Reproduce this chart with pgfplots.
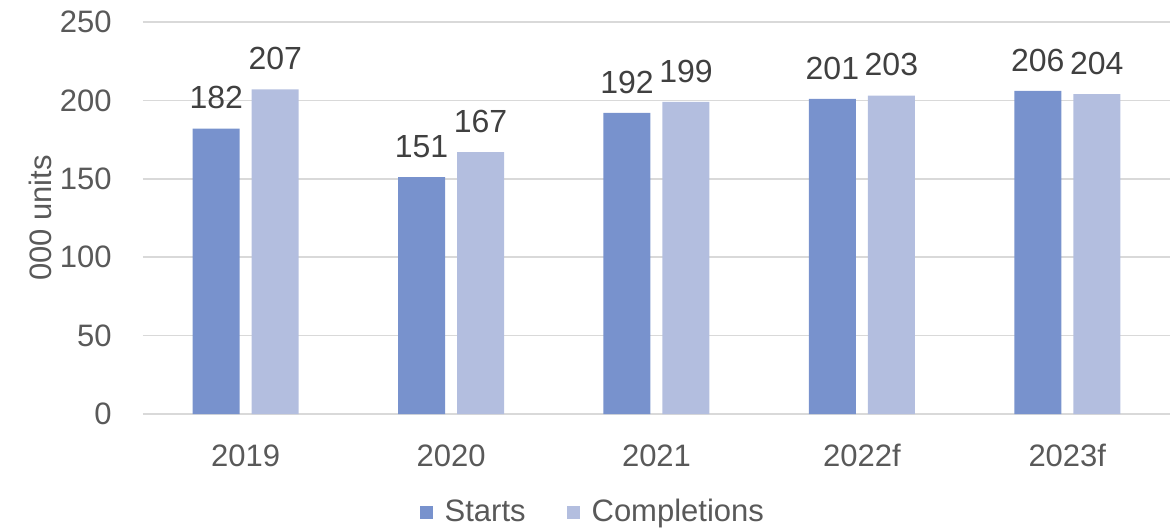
\documentclass[border=0pt]{standalone}
\usepackage{fontspec}
\setmainfont{Liberation Sans}
\usepackage{pgfplots}
\pgfplotsset{compat=1.18}
\definecolor{starts}{HTML}{7892CD}
\definecolor{compl}{HTML}{B3BEDF}
\definecolor{gridc}{HTML}{D9D9D9}
\definecolor{txt}{HTML}{595959}
\definecolor{lbl}{HTML}{404040}
\newcommand{\cf}{\fontsize{15.5}{18}\selectfont}
\newcommand{\lf}{\fontsize{16}{19}\selectfont}
\begin{document}
\begin{tikzpicture}
\begin{axis}[
  at={(0,0)}, anchor=south west,
  scale only axis, width=513.5pt, height=196pt,
  ybar, bar width=23.5pt,
  xmin=-0.5, xmax=4.5, ymin=0, ymax=250,
  xtick={0,1,2,3,4}, xticklabels={2019,2020,2021,2022f,2023f},
  ytick={0,50,100,150,200,250},
  axis line style={draw=none},
  major tick length=0pt, tick style={draw=none},
  ymajorgrids, grid style={gridc, line width=0.75pt},
  /pgf/number format/assume math mode=true,
  tick label style={font=\cf, text=txt},
  xticklabel style={inner sep=0pt, anchor=north, yshift=-15pt},
  yticklabel style={inner sep=0pt, anchor=east, xshift=-15.5pt},
  ylabel={000 units},
  ylabel style={font=\cf, text=txt, at={(axis description cs:-0.1003,0.5)}, anchor=center},
  nodes near coords,
  nodes near coords style={font=\lf, text=lbl, inner sep=0pt, anchor=south, yshift=9.5pt},
  legend columns=2,
  legend style={at={(axis description cs:0.437,-0.25)}, anchor=center, draw=none, fill=none,
    font=\cf, text=txt, nodes={inner sep=0pt},
    /tikz/every odd column/.append style={column sep=6pt},
    /tikz/every even column/.append style={column sep=20.5pt}},
]
\addplot[fill=starts, draw=none, bar shift=-14.75pt,
  legend image code/.code={\fill[starts] (0pt,-3.25pt) rectangle (6.5pt,3.25pt);}]
  coordinates {(0,182) (1,151) (2,192) (3,201) (4,206)};
\addplot[fill=compl, draw=none, bar shift=14.75pt,
  legend image code/.code={\fill[compl] (0pt,-3.25pt) rectangle (6.5pt,3.25pt);}]
  coordinates {(0,207) (1,167) (2,199) (3,203) (4,204)};
\legend{Starts, Completions}
\end{axis}
\pgfresetboundingbox
\path[use as bounding box] (-71.5pt,-58.5pt) rectangle (515.5pt,207pt);
\end{tikzpicture}
\end{document}
